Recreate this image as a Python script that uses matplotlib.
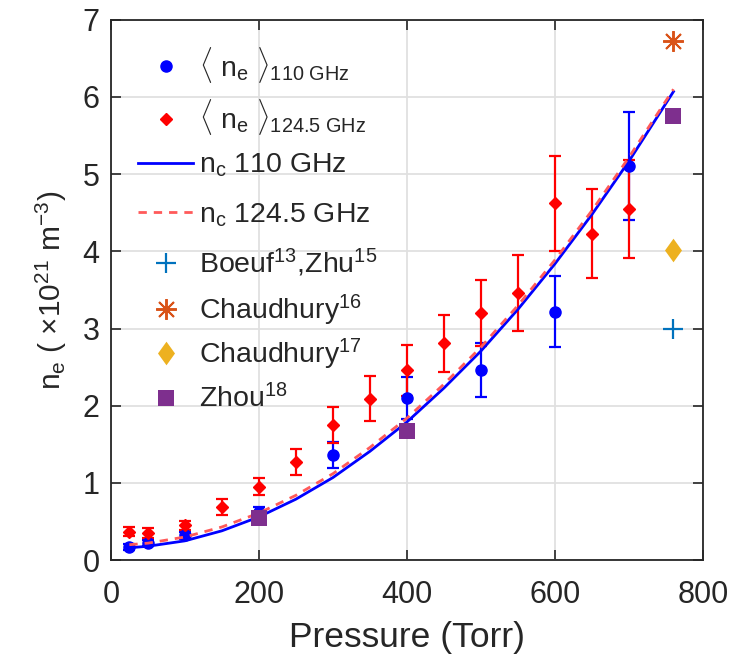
import matplotlib
matplotlib.use("Agg")
import matplotlib.pyplot as plt

plt.rcParams['font.family'] = ['Liberation Sans', 'DejaVu Sans']
plt.rcParams['mathtext.fontset'] = 'custom'
plt.rcParams['mathtext.rm'] = 'Liberation Sans'
plt.rcParams['mathtext.it'] = 'Liberation Sans'
plt.rcParams['mathtext.bf'] = 'Liberation Sans:bold'

# Measured average density, 110 GHz
p_110 = [25, 50, 100, 200, 300, 400, 500, 600, 700]
ne_110 = [0.17, 0.22, 0.32, 0.62, 1.36, 2.10, 2.46, 3.22, 5.11]
err_110 = [0.04, 0.04, 0.05, 0.07, 0.17, 0.27, 0.35, 0.46, 0.70]

# Measured average density, 124.5 GHz
p_124 = [25, 50, 100, 150, 200, 250, 300, 350, 400, 450, 500, 550, 600, 650, 700]
ne_124 = [0.37, 0.35, 0.45, 0.69, 0.95, 1.27, 1.75, 2.09, 2.46, 2.81, 3.20, 3.46, 4.62, 4.23, 4.55]
err_124 = [0.06, 0.06, 0.06, 0.10, 0.11, 0.17, 0.23, 0.29, 0.33, 0.37, 0.43, 0.49, 0.62, 0.58, 0.63]

# Critical density curves
p_c = [25, 50, 100, 150, 200, 250, 300, 350, 400, 450, 500, 550, 600, 650, 700, 760]
nc_110 = [0.16, 0.18, 0.25, 0.38, 0.56, 0.79, 1.07, 1.41, 1.79, 2.23, 2.71, 3.25, 3.84, 4.48, 5.17, 6.07]
nc_124 = [0.20, 0.22, 0.30, 0.43, 0.61, 0.84, 1.12, 1.46, 1.84, 2.28, 2.76, 3.30, 3.89, 4.53, 5.22, 6.10]

# Literature values
p_boeuf, ne_boeuf = [760], [3.0]
p_ch16, ne_ch16 = [760], [6.72]
p_ch17, ne_ch17 = [760], [4.02]
p_zhou, ne_zhou = [200, 400, 760], [0.55, 1.67, 5.75]

legend_labels = [r'$\langle\ \mathrm{n}_{\mathrm{e}}\ \rangle_{110\ \mathrm{GHz}}$',
                 r'$\langle\ \mathrm{n}_{\mathrm{e}}\ \rangle_{124.5\ \mathrm{GHz}}$',
                 r'n$_{\mathrm{c}}$ 110 GHz',
                 r'n$_{\mathrm{c}}$ 124.5 GHz',
                 r'Boeuf$^{13}$,Zhu$^{15}$',
                 r'Chaudhury$^{16}$',
                 r'Chaudhury$^{17}$',
                 r'Zhou$^{18}$']

TXT = '#262626'
tall_diamond = [(0, 1), (0.72, 0), (0, -1), (-0.72, 0), (0, 1)]

fig = plt.figure(figsize=(7.44, 6.59), dpi=100)
ax = fig.add_axes([0.149, 0.150, 0.796, 0.820])

eb110 = ax.errorbar(p_110, ne_110, yerr=err_110, fmt='o', color='#0000FF', ms=8,
                    elinewidth=1.6, capsize=4.5, capthick=1.6, zorder=3)
eb124 = ax.errorbar(p_124, ne_124, yerr=err_124, fmt='D', color='#FF0000', ms=6.5,
                    elinewidth=1.6, capsize=4.5, capthick=1.6, zorder=3)
l110, = ax.plot(p_c, nc_110, '-', color='#0000FF', lw=2.0, zorder=4)
l124, = ax.plot(p_c, nc_124, '--', color='#FF5A5A', lw=2.0, dashes=(3, 2.5), zorder=4)
hb, = ax.plot(p_boeuf, ne_boeuf, '+', color='#0072BD', ms=14, mew=1.6, ls='none', zorder=5)
h16, = ax.plot(p_ch16, ne_ch16, marker=(8, 2, 0), color='#D95319', ms=15, mew=1.4, ls='none', zorder=5)
h17, = ax.plot(p_ch17, ne_ch17, marker=tall_diamond, color='#EDB120', ms=17, mew=0, ls='none', zorder=5)
hz, = ax.plot(p_zhou, ne_zhou, 's', color='#7E2F8E', ms=11, mew=0, ls='none', zorder=5)

ax.set_xlim(0, 800)
ax.set_ylim(0, 7)
ax.set_xticks([0, 200, 400, 600, 800])
ax.set_yticks(range(0, 8))
ax.grid(True, color='#E0E0E0', lw=1.3)
ax.set_axisbelow(True)
ax.tick_params(direction='in', length=7, width=1.2, labelsize=22, top=True, right=True,
               labeltop=False, labelright=False, colors=TXT)
ax.tick_params(axis='x', pad=14)
ax.tick_params(axis='y', pad=8)
for s in ax.spines.values():
    s.set_linewidth(1.3)
    s.set_color(TXT)

ax.set_xlabel('Pressure (Torr)', fontsize=25.5, color=TXT, labelpad=8)
ax.set_ylabel(r'n$_{\mathrm{e}}$ ( $\times$10$^{21}$ m$^{-3}$)', fontsize=21.5, color=TXT, labelpad=10)

# Legend: one entry per row, each row centred at its own height (axes fraction)
handles = [eb110[0], eb124[0], l110, l124, hb, h16, h17, hz]
row_y = [0.917, 0.820, 0.730, 0.639, 0.550, 0.463, 0.381, 0.298]
for k, (h, lab, yy) in enumerate(zip(handles, legend_labels, row_y)):
    lg = ax.legend([h], [lab], loc='center left', frameon=False, fontsize=20.5,
                   handlelength=1.95, numpoints=1, borderpad=0, borderaxespad=0,
                   handletextpad=0.2, bbox_to_anchor=(27 / 592, yy))
    for t in lg.get_texts():
        t.set_color(TXT)
    if k < len(handles) - 1:
        ax.add_artist(lg)

fig.savefig('out.png', dpi=100)
